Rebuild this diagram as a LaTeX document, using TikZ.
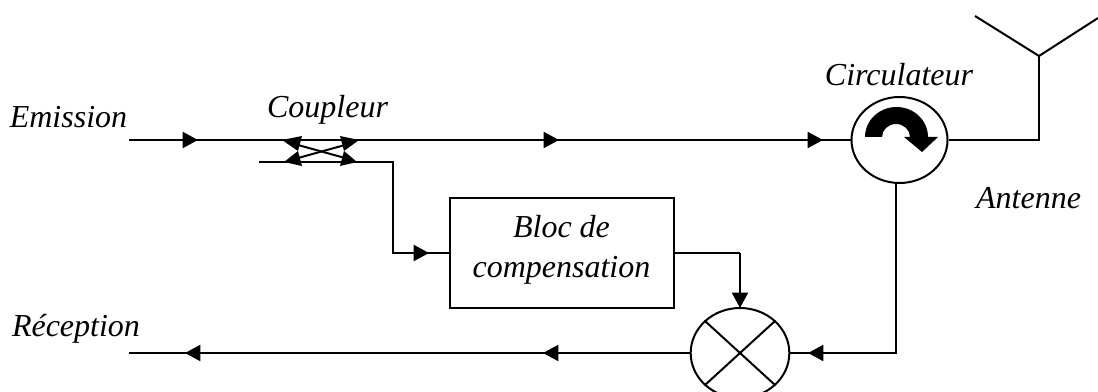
\documentclass[tikz,border=0pt]{standalone}
\usepackage{fontspec}
\setmainfont{Liberation Serif}
\usetikzlibrary{arrows.meta,shapes.geometric}
\tikzset{
	lbl/.style={font=\fontsize{24pt}{30pt}\selectfont\itshape, inner sep=0pt, align=center},
	wire/.style={line width=1.5pt},
	flow/.style={wire, -{Triangle[length=11.5pt,width=12pt]}},
	port/.style={draw, ellipse, line width=1.5pt, inner sep=0pt},
}
\begin{document}
\begin{tikzpicture}[x=0.75pt, y=-0.75pt]
		\useasboundingbox (0,0) rectangle (1098,392);
		\clip (0,0) rectangle (1098,392);

		\node[lbl] (emission) at (68.5,117) {Emission};
		\node[lbl] (coupleur) at (327.5,110) {Coupleur};
		\node[lbl] (circulateur) at (899,75) {Circulateur};
		\node[lbl] (antenne) at (1028.5,198) {Antenne};
		\node[lbl] (reception) at (76,329) {Réception};

		\node[port, minimum width=72pt, minimum height=64.5pt] (circ) at (899.5,140) {};
		\node[port, minimum width=74pt, minimum height=67.5pt] (mix) at (740,353) {};
		\node[draw, line width=1.5pt, minimum width=168pt, minimum height=83pt] (bloc) at (562,253) {};
		\node[lbl] (bloctxt) at (561.5,249.5) {Bloc de\\compensation};

		\coordinate (in) at (129,140);
		\coordinate (a1) at (198,140);
		\coordinate (a2) at (559,140);
		\coordinate (a3) at (823,140);
		\coordinate (c2) at (259,162);
		\coordinate (c3) at (393,162);
		\coordinate (c4) at (393,253);
		\coordinate (a4) at (429,253);
		\coordinate (b1) at (740,253);
		\coordinate (a5) at (740,308);
		\coordinate (b2) at (896,353);
		\coordinate (a6) at (808,353);
		\coordinate (a7) at (543,353);
		\coordinate (a8) at (185,353);
		\coordinate (out) at (129,353);
		\coordinate (ant) at (1039,140);
		\coordinate (ant0) at (1039,56);
		\coordinate (ant1) at (975,16);
		\coordinate (ant2) at (1098,18);

		\draw[wire] (in) -- (circ.west);
		\draw[flow] (in) -- (a1);
		\draw[flow] (a1) -- (a2);
		\draw[flow] (a2) -- (a3);
		\draw[wire] (c2) -- (c3) -- (c4) -- (bloc.west);
		\draw[flow] (c4) -- (a4);
		\draw[wire] (bloc.east) -- (b1);
		\draw[flow] (b1) -- (a5);
		\draw[wire] (b2 |- circ.south) -- (b2) -- (mix.east);
		\draw[flow] (b2) -- (a6);
		\draw[wire] (mix.west) -- (out);
		\draw[flow] (mix.west) -- (a7);
		\draw[flow] (a7) -- (a8);
		\draw[wire] (circ.east) -- (ant) -- (ant0);
		\draw[wire] (ant1) -- (ant0) -- (ant2);
		\draw[wire] (mix.north west) -- (mix.south east);
		\draw[wire] (mix.north east) -- (mix.south west);

		% coupleur
		\coordinate (k1) at (298,145);
		\coordinate (k2) at (345,145);
		\coordinate (k3) at (298,158);
		\coordinate (k4) at (345,158);
		\draw[wire] (k1) -- (k4);
		\draw[wire] (k3) -- (k2);
		\fill (282,140) -- (302,136) -- (298,151) -- cycle;
		\fill (359,140) -- (340,136) -- (344,151) -- cycle;
		\fill (284,162) -- (302,166) -- (298,151) -- cycle;
		\fill (357,162) -- (340,166) -- (344,151) -- cycle;

		% fleche du circulateur
		\fill (865,137) arc[start angle=180, end angle=360, x radius=31.5, y radius=30] -- (938,137) -- (922,152) -- (904,137) -- (910,137) arc[start angle=360, end angle=180, x radius=14, y radius=13] -- cycle;
	\end{tikzpicture}
\end{document}
